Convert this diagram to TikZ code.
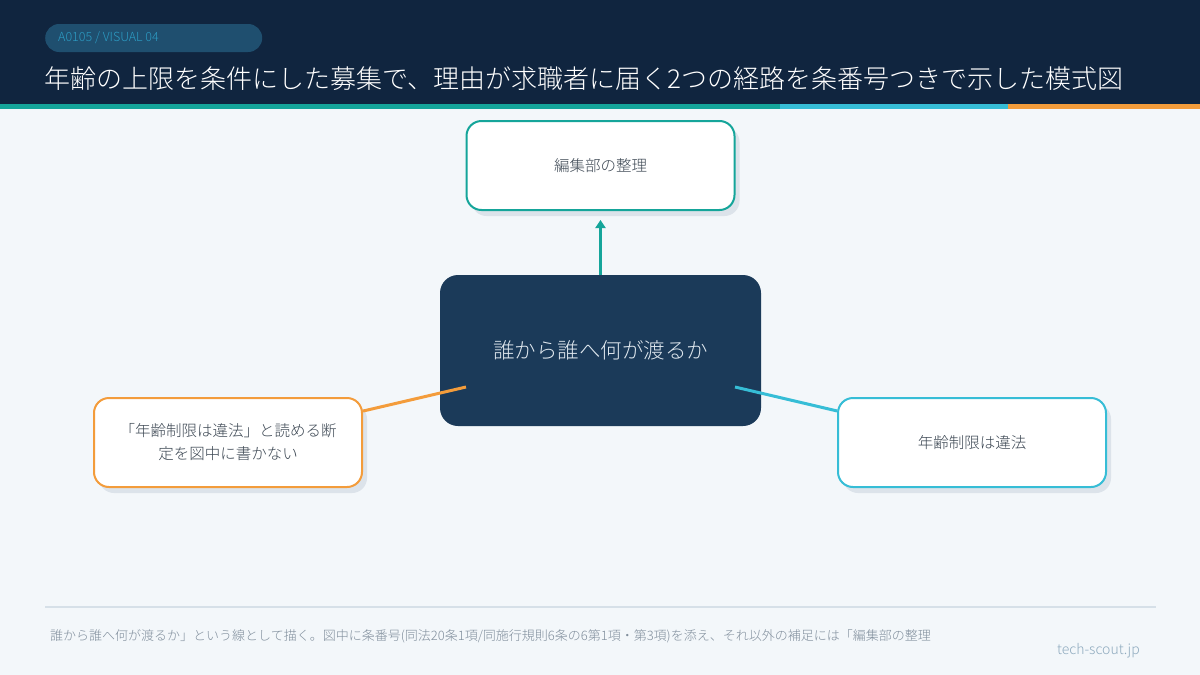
\documentclass[tikz,border=0pt]{standalone}
\usepackage{fontspec}
\setmainfont{Noto Sans CJK JP}[UprightFont={* Light}]
\usetikzlibrary{arrows.meta,shadows}

\definecolor{headbg}{HTML}{10253F}
\definecolor{pagebg}{HTML}{F3F7FA}
\definecolor{pillbg}{HTML}{1F4F6F}
\definecolor{tagtext}{HTML}{2C9CC4}
\definecolor{tealc}{HTML}{15A59A}
\definecolor{cyanc}{HTML}{36BDD6}
\definecolor{orangec}{HTML}{F39C3B}
\definecolor{hubbg}{HTML}{1B3A59}
\definecolor{hubtext}{HTML}{E0E8EF}
\definecolor{cardtext}{HTML}{3B4652}
\definecolor{shadowgray}{HTML}{DCE3EA}
\definecolor{rulec}{HTML}{D6E0E8}
\definecolor{footc}{HTML}{808E9C}
\definecolor{brandc}{HTML}{8EAABE}

\begin{document}
\begin{tikzpicture}[x=1pt,y=-1pt,
  card/.style={draw,line width=2pt,fill=white,rounded corners=15pt,
    minimum width=268pt,minimum height=89pt,align=center,text=cardtext,
    font=\fontsize{15.5}{23}\selectfont,
    drop shadow={shadow xshift=5pt,shadow yshift=-6pt,fill=shadowgray,opacity=1}},
  link/.style={line width=3pt}]
\useasboundingbox (0,0) rectangle (1200,675);

% Background and header
\fill[pagebg] (0,0) rectangle (1200,675);
\fill[headbg] (0,0) rectangle (1200,104);
\fill[tealc] (0,104) rectangle (780,109);
\fill[cyanc] (780,104) rectangle (1008,109);
\fill[orangec] (1008,104) rectangle (1200,109);

% Tag and title
\node[fill=pillbg,rounded corners=14pt,minimum width=217pt,minimum height=28pt,anchor=west] (tag) at (45,38) {};
\node[anchor=west,text=tagtext,font=\fontsize{12.5}{14}\selectfont,inner sep=0] (tagname) at ([xshift=13pt]tag.west) {A0105 / VISUAL 04};
\node[anchor=base west,text=white,font=\fontsize{26}{30}\selectfont,inner sep=0] (title) at (44,88) {年齢の上限を条件にした募集で、理由が求職者に届く2つの経路を条番号つきで示した模式図};

% Boxes
\node[fill=hubbg,rounded corners=18pt,minimum width=321pt,minimum height=151pt,text=hubtext,font=\fontsize{21.5}{26}\selectfont] (hub) at (600.5,350.5) {誰から誰へ何が渡るか};
\node[card,draw=tealc] (editor) at (600.5,165.5) {編集部の整理};
\node[card,draw=orangec] (claim) at (228,442.5) {「年齢制限は違法」と読める断\\定を図中に書かない};
\node[card,draw=cyanc] (law) at (972,442.5) {年齢制限は違法};

% Connectors
\coordinate (hubL) at (466,387);
\coordinate (hubR) at (735,387);
\draw[link,tealc,line width=3.5pt,-{Triangle[length=8pt,width=10pt]},shorten >=9pt] (hub) -- (editor.south);
\draw[link,orangec] (claim) -- (hubL);
\draw[link,cyanc] (law) -- (hubR);

% Footer
\draw[rulec,line width=2pt] (45,607) -- (1156,607);
\node[anchor=west,text=footc,font=\fontsize{13}{16}\selectfont,inner sep=0] (note) at (50,636) {誰から誰へ何が渡るか」という線として描く。図中に条番号(同法20条1項/同施行規則6条の6第1項・第3項)を添え、それ以外の補足には「編集部の整理};
\node[anchor=east,text=brandc,font=\fontsize{14}{16}\selectfont,inner sep=0] (brand) at (1140,651) {tech-scout.jp};
\end{tikzpicture}
\end{document}
